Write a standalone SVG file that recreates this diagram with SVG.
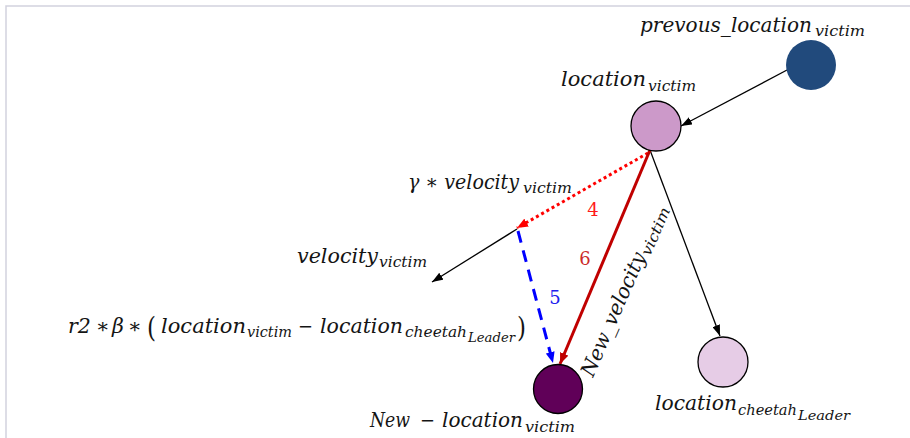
<svg xmlns="http://www.w3.org/2000/svg" width="910" height="438" viewBox="0 0 910 438">
<defs>
<style>
.t{font-family:"DejaVu Serif","Liberation Serif",serif;font-style:italic;fill:#141414;font-size:20.5px}
.s{font-size:15px}
.ss{font-size:12.5px}
.u{font-style:normal}
.num{font-family:"DejaVu Serif","Liberation Serif",serif;font-size:18px;text-anchor:middle}
.node{stroke:#000;stroke-width:1.3}
</style>
<marker id="ab" markerUnits="userSpaceOnUse" markerWidth="11" markerHeight="8" refX="11" refY="4" orient="auto"><path d="M0,0 L11,4 L0,8 z" fill="#000"/></marker>
<marker id="ar" markerUnits="userSpaceOnUse" markerWidth="11" markerHeight="9" refX="11" refY="4.5" orient="auto"><path d="M0,0 L11,4.5 L0,9 z" fill="#ff0000"/></marker>
<marker id="abl" markerUnits="userSpaceOnUse" markerWidth="11" markerHeight="9" refX="11" refY="4.5" orient="auto"><path d="M0,0 L11,4.5 L0,9 z" fill="#0000ff"/></marker>
<marker id="adr" markerUnits="userSpaceOnUse" markerWidth="11" markerHeight="9" refX="11" refY="4.5" orient="auto"><path d="M0,0 L11,4.5 L0,9 z" fill="#c00000"/></marker>
</defs>
<rect width="910" height="438" fill="#fff"/>
<path d="M6,438 V6 H910" fill="none" stroke="#d2d2de" stroke-width="1.5"/>

<g id="connectors" fill="none">
<line x1="787" y1="70" x2="681" y2="126" stroke="#000" stroke-width="1.3" marker-end="url(#ab)"/>
<line x1="650" y1="150" x2="720" y2="336" stroke="#000" stroke-width="1.3" marker-end="url(#ab)"/>
<line x1="517" y1="229" x2="432" y2="282" stroke="#000" stroke-width="1.3" marker-end="url(#ab)"/>
<line x1="648" y1="153" x2="517" y2="228" stroke="#ff0000" stroke-width="3" stroke-dasharray="3 3" marker-end="url(#ar)"/>
<line x1="518" y1="231" x2="553" y2="363" stroke="#0000ff" stroke-width="3" stroke-dasharray="12 8" marker-end="url(#abl)"/>
<line x1="650" y1="150" x2="560" y2="364" stroke="#c00000" stroke-width="3" marker-end="url(#adr)"/>
</g>

<g id="labels-edges">
<text class="num" x="593" y="216" fill="#ff1a1a">4</text>
<text class="num" x="585" y="265" fill="#cc2a2a">6</text>
<text class="num" x="555" y="304" fill="#2020ee">5</text>
<g transform="translate(593,378) rotate(-66.5)">
<text class="t" fill="#2a2a2a"><tspan x="0" y="0" textLength="133" lengthAdjust="spacingAndGlyphs">New_velocity</tspan></text>
<text class="t s"><tspan x="134" y="4" textLength="51" lengthAdjust="spacingAndGlyphs">victim</tspan></text>
</g>
<text class="t" x="408" y="189" textLength="111" lengthAdjust="spacingAndGlyphs">γ ∗ velocity</text>
<text class="t s" x="523" y="193" textLength="49" lengthAdjust="spacingAndGlyphs">victim</text>
<text class="t" x="297" y="263" textLength="81" lengthAdjust="spacingAndGlyphs">velocity</text>
<text class="t s" x="379" y="267" textLength="48" lengthAdjust="spacingAndGlyphs">victim</text>
<g id="formula">
<text class="t"><tspan x="68" y="333">r2</tspan><tspan class="u" x="96" y="333">∗</tspan><tspan x="112" y="333">β</tspan><tspan class="u" x="128" y="333">∗</tspan><tspan class="u" x="147" y="337" style="font-size:28px" textLength="9" lengthAdjust="spacingAndGlyphs">(</tspan><tspan x="161" y="333" textLength="85" lengthAdjust="spacingAndGlyphs">location</tspan><tspan class="s" x="247" y="337" textLength="45" lengthAdjust="spacingAndGlyphs">victim</tspan><tspan class="u" x="298" y="333" textLength="15" lengthAdjust="spacingAndGlyphs">−</tspan><tspan x="320" y="333" textLength="83" lengthAdjust="spacingAndGlyphs">location</tspan><tspan class="s" x="405" y="337" textLength="62" lengthAdjust="spacingAndGlyphs">cheetah</tspan><tspan class="ss" x="468" y="342" textLength="47" lengthAdjust="spacingAndGlyphs">Leader</tspan><tspan class="u" x="517" y="337" style="font-size:28px" textLength="9" lengthAdjust="spacingAndGlyphs">)</tspan></text>
</g>
</g>

<g id="node-prev">
<circle cx="811" cy="65" r="25" fill="#214a7c"/>
<text class="t" x="640" y="32" textLength="172" lengthAdjust="spacingAndGlyphs">prevous_location</text>
<text class="t s" x="815" y="36" textLength="50" lengthAdjust="spacingAndGlyphs">victim</text>
</g>
<g id="node-location">
<circle class="node" cx="656" cy="126" r="25" fill="#cc99c9"/>
<text class="t" x="561" y="86" textLength="85" lengthAdjust="spacingAndGlyphs">location</text>
<text class="t s" x="648" y="91" textLength="48" lengthAdjust="spacingAndGlyphs">victim</text>
</g>
<g id="node-new">
<circle class="node" cx="558" cy="389" r="24.5" fill="#600058"/>
<text class="t" x="370" y="427" textLength="40" lengthAdjust="spacingAndGlyphs">New</text>
<text class="t u" x="420" y="427" textLength="15" lengthAdjust="spacingAndGlyphs">−</text>
<text class="t" x="442" y="427" textLength="81" lengthAdjust="spacingAndGlyphs">location</text>
<text class="t s" x="525" y="432" textLength="50" lengthAdjust="spacingAndGlyphs">victim</text>
</g>
<g id="node-cheetah">
<circle class="node" cx="723" cy="362" r="25" fill="#e6cce6"/>
<text class="t" x="655" y="410" textLength="82" lengthAdjust="spacingAndGlyphs">location</text>
<text class="t s" x="738" y="415" textLength="59" lengthAdjust="spacingAndGlyphs">cheetah</text>
<text class="t ss" x="798" y="420" textLength="52" lengthAdjust="spacingAndGlyphs">Leader</text>
</g>
</svg>
